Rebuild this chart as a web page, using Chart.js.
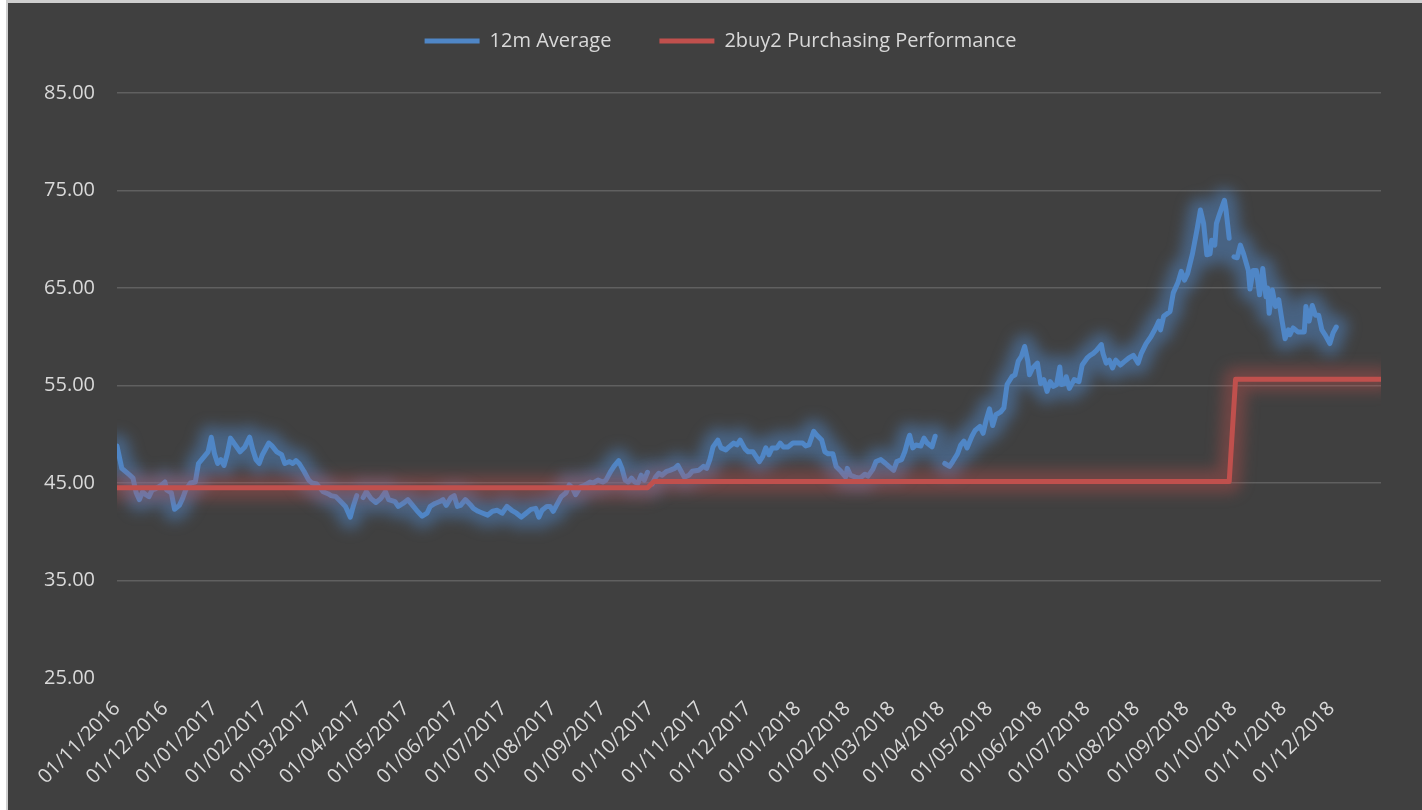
<!DOCTYPE html>
<html>
<head>
<meta charset="utf-8">
<script src="https://cdn.jsdelivr.net/npm/chart.js@4.4.1/dist/chart.umd.min.js"></script>
<style>
  html, body { margin: 0; padding: 0; background: #fff; }
  #wrap { width: 1422px; height: 810px; position: relative; }
</style>
</head>
<body>
<div id="wrap"><canvas id="chart"></canvas></div>
<script>
// month tick labels on the date axis
const monthLabels = ['01/11/2016', '01/12/2016', '01/01/2017', '01/02/2017', '01/03/2017', '01/04/2017',
  '01/05/2017', '01/06/2017', '01/07/2017', '01/08/2017', '01/09/2017', '01/10/2017', '01/11/2017',
  '01/12/2017', '01/01/2018', '01/02/2018', '01/03/2018', '01/04/2018', '01/05/2018', '01/06/2018',
  '01/07/2018', '01/08/2018', '01/09/2018', '01/10/2018', '01/11/2018', '01/12/2018']
const axisStart = '01/11/2016'
const axisEnd = '01/01/2019'

// 12m Average (day = days after 01/11/2016, null = gap in the line)
const blueDay = [0, 3, 8, 10, 12, 14, 16, 18, 20, 22, 24, 26, 28, 30, 31, 34, 36, 39, 41, 43, 46, 49, 51, 53, 57, 59,
  61, 63, 65, 67, 69, 71, 74, 77, 80, 83, 85, 87, 89, 91, 95, 97, 100, 103, 105, 108, 110, 112, 114, 117, 120, 122,
  125, 129, 132, 134, 137, 140, 143, 146, 148, 150, 152, 154, 156, 159, 162, 165, 168, 170, 174, 176, 179, 182, 185,
  188, 191, 194, 196, 199, 202, 204, 206, 209, 211, 213, 215, 218, 221, 223, 226, 229, 232, 235, 238, 241, 244, 247,
  250, 253, 256, 259, 262, 264, 266, 269, 271, 273, 275, 278, 281, 283, 285, 287, 290, 293, 296, 298, 301, 304, 306,
  309, 311, 314, 316, 318, 320, 322, 324, 326, 328, 330, 332, 334, 335, 337, 339, 341, 344, 346, 349, 351, 353, 355,
  358, 360, 364, 367, 369, 371, 373, 376, 378, 381, 383, 386, 388, 390, 393, 395, 398, 402, 404, 406, 408, 410, 413,
  415, 417, 420, 423, 426, 429, 431, 433, 436, 438, 441, 443, 445, 448, 450, 453, 456, 457, 459, 462, 465, 468, 470,
  473, 475, 478, 481, 483, 486, 488, 491, 493, 495, 496, 498, 500, 503, 505, 507, 510, 512, 515, 518, 521, 523, 526,
  528, 530, 532, 535, 537, 540, 542, 544, 546, 548, 550, 553, 555, 557, 560, 562, 564, 566, 568, 570, 571, 573, 576,
  578, 580, 582, 584, 586, 588, 590, 591, 593, 594, 596, 599, 602, 604, 607, 609, 611, 613, 616, 617, 619, 621, 623,
  625, 628, 630, 633, 636, 639, 641, 644, 647, 650, 652, 653, 655, 659, 661, 664, 666, 668, 670, 673, 676, 678, 680,
  682, 684, 685, 687, 688, 690, 693, 694, 696, 698, 699, 701, 703, 705, 708, 709, 711, 713, 715, 717, 719, 720, 721,
  723, 725, 727, 729, 731, 733, 734, 736, 739, 743, 744, 746, 748, 750, 752, 754, 756, 759, 761, 763]
const blueAvg = [48.8, 46.5, 45.8, 45.5, 44.0, 43.3, 44.1, 43.8, 43.6, 44.3, 44.4, 44.6, 44.8, 45.1, 44.3, 44.0, 42.3,
  42.7, 43.4, 44.3, 45.0, 45.1, 47.0, 47.4, 48.2, 49.7, 48.0, 47.0, 47.4, 46.8, 48.0, 49.6, 48.9, 48.2, 48.7, 49.7,
  48.4, 47.4, 47.0, 47.9, 49.1, 48.8, 48.2, 47.9, 47.0, 47.2, 47.0, 47.3, 47.0, 46.2, 45.3, 45.0, 44.9, 44.1, 43.9,
  43.7, 43.6, 43.1, 42.6, 41.5, 42.7, 43.7, null, 43.5, 44.1, 43.4, 43.0, 43.4, 44.1, 43.3, 43.1, 42.6, 42.9, 43.3,
  42.7, 42.1, 41.6, 41.9, 42.6, 42.9, 43.1, 43.3, 42.7, 43.5, 43.7, 42.6, 42.7, 43.3, 42.8, 42.4, 42.1, 41.9, 41.7,
  42.1, 42.2, 41.9, 42.6, 42.2, 41.9, 41.5, 41.9, 42.3, 42.4, 41.5, 42.2, 42.6, 42.6, 42.1, 42.7, 43.6, 44.0, 44.8,
  44.5, 43.8, 44.6, 44.8, 45.1, 45.0, 45.3, 45.1, 45.3, 46.2, 46.7, 47.3, 46.5, 45.3, 45.1, 45.5, 45.1, 45.0, 45.8,
  45.3, 46.1, null, 44.9, 45.6, 46.0, 45.8, 46.2, 46.3, 46.5, 46.8, 46.2, 45.6, 45.8, 46.2, 46.3, 46.7, 46.5, 47.4,
  48.7, 49.4, 48.6, 48.4, 48.7, 49.1, 48.9, 49.4, 48.5, 48.2, 48.2, 47.2, 47.7, 48.6, 47.9, 48.6, 48.6, 49.1, 48.7,
  48.7, 49.1, 49.1, 49.1, 48.8, 48.9, 50.3, 49.9, 49.4, 48.2, 48.0, 48.0, 46.7, 46.2, 45.6, 46.5, 45.8, 45.6, 45.5,
  45.9, 45.7, 46.4, 47.2, 47.4, 47.0, 46.7, 46.3, 47.2, 47.4, 48.2, 49.4, 49.9, 48.6, 48.9, 48.8, 49.6, 49.1, 48.7,
  49.8, null, 47.0, 46.7, 47.2, 48.0, 48.9, 49.3, 48.6, 49.8, 50.4, 50.8, 50.1, 51.5, 52.6, 50.9, 52.0, 52.3, 52.7,
  55.1, 55.9, 56.1, 57.5, 58.0, 59.0, 57.5, 56.1, 56.8, 57.3, 55.2, 55.6, 54.4, 55.4, 54.9, 55.1, 56.9, 55.1, 55.2,
  55.9, 54.7, 55.6, 55.4, 57.1, 57.8, 58.1, 58.3, 58.6, 59.2, 58.3, 57.3, 57.6, 56.8, 57.6, 57.1, 57.4, 57.8, 58.1,
  57.3, 58.3, 59.3, 60.0, 60.9, 61.6, 60.7, 62.1, 62.6, 64.5, 65.6, 66.7, 65.8, 66.5, 68.5, 71.1, 73.0, 71.6, 68.4,
  68.5, 69.9, 69.4, 71.6, 72.6, 74.0, 73.0, 70.1, null, 68.2, 68.1, 69.4, 68.5, 66.8, 64.9, 66.8, 66.8, 64.3, 67.0,
  64.1, 65.0, 62.4, 64.8, 63.1, 63.8, 61.7, 59.8, 60.7, 60.2, 60.9, 60.5, 60.5, 63.1, 61.6, 63.2, 62.2, 62.2, 60.7,
  60.2, 59.3, 60.4, 61.0]

// 2buy2 Purchasing Performance (step line)
const redDay = [0, 332, 336, 696, 700, 791]
const redPerf = [44.52, 44.52, 45.15, 45.15, 55.65, 55.65]

const yMin = 25
const yMax = 85
const yStep = 10

function dayOf(label) {
    const [d, m, y] = label.split('/').map(Number)
    const [d0, m0, y0] = axisStart.split('/').map(Number)
    return Math.round((Date.UTC(y, m - 1, d) - Date.UTC(y0, m0 - 1, d0)) / 86400000)
}
const tickDays = monthLabels.map(dayOf)

const textColor = '#d9d9d9'
Chart.defaults.font.family = "'Open Sans', sans-serif"
Chart.defaults.font.size = 20
Chart.defaults.color = textColor

const background = {
    id: 'background',
    beforeDraw(chart) {
        const c = chart.ctx
        c.save()
        c.fillStyle = '#ffffff'
        c.fillRect(0, 0, chart.width, chart.height)
        c.fillStyle = '#cfcfcf'
        c.fillRect(6, 0, chart.width - 6, 3)
        c.fillRect(6, 0, 2, chart.height)
        c.fillStyle = '#404040'
        c.fillRect(8, 3, chart.width - 8, chart.height - 3)
        c.restore()
    }
}

// soft glow round each line (Excel glow effect), traced through the line's own points
const glow = {
    id: 'glow',
    beforeDatasetDraw(chart, args) {
        const ds = chart.data.datasets[args.index]
        const area = chart.chartArea
        const c = chart.ctx
        c.save()
        c.beginPath()
        c.rect(area.left, area.top - 30, area.right - area.left, area.bottom - area.top + 60)
        c.clip()
        c.filter = 'blur(7px)'
        c.strokeStyle = ds.glowColor
        c.lineWidth = 24
        c.lineJoin = 'round'
        c.lineCap = 'round'
        c.beginPath()
        let pen = false
        args.meta.data.forEach(p => {
            if (p.skip) { pen = false; return }
            if (!pen) { c.moveTo(p.x, p.y); pen = true } else c.lineTo(p.x, p.y)
        })
        c.stroke()
        c.restore()
    }
}

const legendTweak = {
    id: 'legendTweak',
    beforeInit(chart) {
        const legend = chart.legend
        const fit = legend.fit
        legend.fit = function () {
            fit.call(this)
            this.height = 93
        }
        const draw = legend.draw
        legend.draw = function () {
            const c = this.ctx
            c.save()
            c.translate(15, -17)
            draw.call(this)
            c.restore()
        }
    }
}

new Chart(document.getElementById('chart'), {
    type: 'line',
    data: {
        datasets: [
            {
                label: '12m Average',
                data: blueDay.map((d, i) => ({ x: d, y: blueAvg[i] })),
                borderColor: '#4f86c6',
                backgroundColor: '#4f86c6',
                glowColor: 'rgba(79,134,198,0.5)',
                borderWidth: 5,
                pointRadius: 0,
                spanGaps: false,
                borderJoinStyle: 'round',
                borderCapStyle: 'round',
                order: 1
            },
            {
                label: '2buy2 Purchasing Performance',
                data: redDay.map((d, i) => ({ x: d, y: redPerf[i] })),
                borderColor: '#c0504d',
                backgroundColor: '#c0504d',
                glowColor: 'rgba(192,80,77,0.38)',
                borderWidth: 5,
                pointRadius: 0,
                borderJoinStyle: 'round',
                order: 0
            }
        ]
    },
    options: {
        responsive: true,
        maintainAspectRatio: false,
        animation: false,
        layout: { padding: { left: 30, right: 41, top: 0, bottom: 0 } },
        plugins: {
            legend: {
                position: 'top',
                labels: {
                    color: textColor,
                    font: { size: 20 },
                    boxWidth: 55,
                    boxHeight: 5,
                    padding: 48,
                    sort: (a, b) => a.datasetIndex - b.datasetIndex,
                    generateLabels(chart) {
                        return Chart.defaults.plugins.legend.labels.generateLabels(chart)
                            .map(item => Object.assign(item, { fillStyle: item.strokeStyle, lineWidth: 0 }))
                    }
                }
            },
            tooltip: { enabled: false }
        },
        scales: {
            x: {
                type: 'linear',
                min: 0,
                max: dayOf(axisEnd),
                grid: { display: false },
                border: { display: false },
                afterBuildTicks(scale) {
                    scale.ticks = tickDays.map(v => ({ value: v }))
                },
                afterFit(scale) {
                    scale.height = 132
                },
                ticks: {
                    autoSkip: false,
                    minRotation: 45,
                    maxRotation: 45,
                    padding: 11,
                    color: textColor,
                    font: { size: 20 },
                    callback(value) {
                        const i = tickDays.indexOf(value)
                        return i >= 0 ? monthLabels[i] : ''
                    }
                }
            },
            y: {
                min: yMin,
                max: yMax,
                border: { display: false },
                grid: {
                    drawTicks: false,
                    lineWidth: 1.5,
                    color: ctx => ctx.tick && ctx.tick.value === yMin ? 'rgba(0,0,0,0)' : 'rgba(255,255,255,0.17)'
                },
                afterFit(scale) {
                    scale.width = 87
                },
                ticks: {
                    stepSize: yStep,
                    padding: 22,
                    color: textColor,
                    callback: v => v.toFixed(2)
                }
            }
        }
    },
    plugins: [background, glow, legendTweak]
})
</script>
</body>
</html>
